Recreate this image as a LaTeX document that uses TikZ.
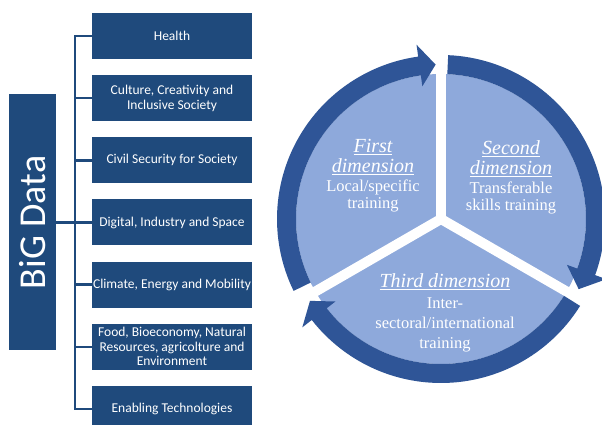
\documentclass[tikz,border=0pt]{standalone}
\usepackage{fontspec}
\setmainfont{Liberation Serif}
\newfontfamily\boxfont{Carlito}
\definecolor{navy}{HTML}{1F4A7C}
\definecolor{ringblue}{HTML}{2F5597}
\definecolor{pieblue}{HTML}{8EA9DB}
\newcommand{\headfont}{\fontsize{20}{22}\selectfont\itshape}
\begin{document}
\begin{tikzpicture}[x=1pt,y=1pt,
  topic/.style={fill=navy, text=white, minimum width=160pt, minimum height=46pt,
    inner sep=0pt, align=center, font=\boxfont\fontsize{13.5}{14.5}\selectfont},
  bigbox/.style={fill=navy, minimum width=47pt, minimum height=256pt, inner sep=0pt},
  bigtext/.style={text=white, rotate=90, font=\boxfont\fontsize{38}{40}\selectfont},
  link/.style={draw=navy, line width=2.5pt},
  ringarc/.style={fill=ringblue},
  gap/.style={draw=white, line width=10pt},
  dimtext/.style={text=white, align=center, font=\fontsize{16.5}{17}\selectfont}]
\clip (0,0) rectangle (602,425);
\fill[white] (0,0) rectangle (602,425);
% topic boxes
\node[topic] (health)  at (172,389)   {Health};
\node[topic] (culture) at (172,326.8) {Culture, Creativity and\\Inclusive Society};
\node[topic] (civil)   at (172,264.7) {Civil Security for Society};
\node[topic] (digital) at (172,202.5) {Digital, Industry and Space};
\node[topic] (climate) at (172,140.3) {Climate, Energy and Mobility};
\node[topic] (food)    at (172,78.2)  {Food, Bioeconomy, Natural\\Resources, agricolture and\\Environment};
\node[topic] (enab)    at (172,16)    {Enabling Technologies};
\node[bigbox] (big) at (32.5,202.5) {};
\node[bigtext] (bigt) at (big.center) {BiG Data};
% bracket
\coordinate (spine) at (75,0);
\draw[link] (health.west) -- (health.west -| spine) -- (enab.west -| spine) -- (enab.west);
\foreach \n in {culture,civil,digital,climate,food}
  \draw[link] (\n.west) -- (\n.west -| spine);
\draw[link] (big.east) -- (big.east -| spine);
% cycle
\begin{scope}[shift={(441,206)}]
  \fill[pieblue] (0,0) circle[radius=145pt];
  \foreach \a in {90,-30,210}
    \draw[gap] (0,0) -- (\a:148pt);
  \fill[ringarc] (206:164pt) arc[start angle=206, end angle=98, radius=164pt]
     -- (98:176pt) -- (92:154.5pt) -- (98:134pt) -- (98:145pt)
     arc[start angle=98, end angle=206, radius=145pt] -- cycle;
  \fill[ringarc] (87.5:164pt) arc[start angle=87.5, end angle=-20, radius=164pt]
     -- (-20:176pt) -- (-27:154.5pt) -- (-20:134pt) -- (-20:145pt)
     arc[start angle=-20, end angle=87.5, radius=145pt] -- cycle;
  \fill[ringarc] (-32:164pt) arc[start angle=-32, end angle=-142, radius=164pt]
     -- (-142:176pt) -- (-148:154.5pt) -- (-142:134pt) -- (-142:145pt)
     arc[start angle=-142, end angle=-32, radius=145pt] -- cycle;
\end{scope}
\node[dimtext] (first) at (373,249)
  {{\headfont\underline{First}}\\[3pt]{\headfont\underline{dimension}}\\[2pt]Local/specific\\training};
\node[dimtext] (second) at (511,248)
  {{\headfont\underline{Second}}\\[3pt]{\headfont\underline{dimension}}\\[2pt]Transferable\\skills training};
\node[dimtext] (third) at (445,112)
  {{\headfont\underline{Third dimension}}\\[4pt]Inter-\\[3pt]sectoral/international\\[3pt]training};
\end{tikzpicture}
\end{document}
